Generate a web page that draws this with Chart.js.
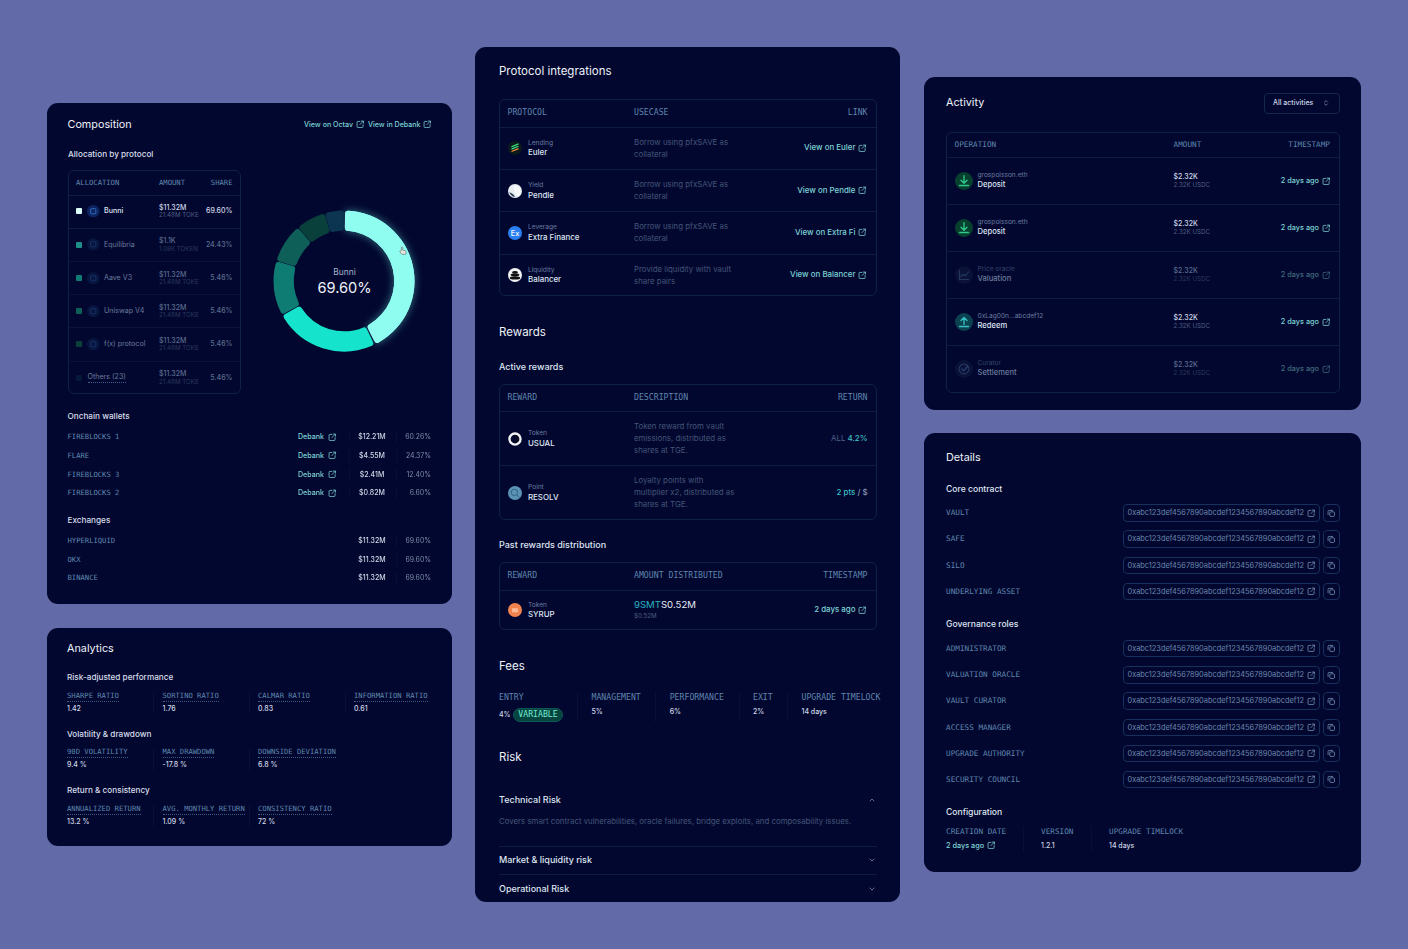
<!DOCTYPE html>
<html>
<head>
<meta charset="utf-8">
<title>Vault dashboard</title>
<script src="https://cdn.jsdelivr.net/npm/chart.js@4"></script>
<style>
  html, body { margin: 0; padding: 0; background: #626ba8; }
  #stage { position: relative; width: 1408px; height: 949px; overflow: hidden; background: #626ba8; font-family: Inter, "Noto Sans", sans-serif; color: #e6ebf5; filter: blur(0.3px); }
  .panel { position: absolute; background: #02072f; border-radius: 11px; }
  .box { position: absolute; border: 1px solid #10204a; border-radius: 6px; box-sizing: border-box; }
  .hl, .vl { position: absolute; background: #0e1c44; }
  .vl { background: #080f36; }
  .t { position: absolute; white-space: nowrap; line-height: 1.2; }
  .ic { position: absolute; }
  .ic svg { display: block; }
  .h1 { font-size: 10.8px; font-weight: 400; color: #eef2f8; }
  .h1m { font-size: 11.5px; font-weight: 400; color: #eef2f8; }
  .h2 { font-size: 8.2px; font-weight: 500; color: #d8deea; }
  .h2m { font-size: 9px; font-weight: 500; color: #dfe5f0; }
  .h2d { font-size: 8.6px; font-weight: 500; color: #dfe5f0; }
  .m { font-family: "DejaVu Sans Mono", monospace; font-size: 7.2px; color: #5f86ae; }
  .m2 { font-family: "DejaVu Sans Mono", monospace; font-size: 8.2px; color: #5f86ae; }
  .m3 { font-family: "DejaVu Sans Mono", monospace; font-size: 7.7px; color: #5f86ae; }
  .u { border-bottom: 1px dotted #3f5f8a; padding-bottom: 0.5px; }
  .b { font-size: 7.6px; font-weight: 500; color: #dfe5f1; }
  .bm { font-size: 7.9px; font-weight: 500; color: #dfe5f1; }
  .ba { font-size: 7.1px; font-weight: 500; color: #dfe5f1; }
  .bd { font-size: 7.6px; font-weight: 500; color: #6b7b9c; }
  .bda { font-size: 7.1px; font-weight: 400; color: #6b7b9c; }
  .v { font-size: 7px; font-weight: 500; color: #cfd7e6; }
  .vd { font-size: 7px; font-weight: 500; color: #5b6c8e; }
  .s { font-size: 6.2px; color: #4e5f82; }
  .sd { font-size: 6.2px; color: #2b3a5c; }
  .sub { font-size: 6.6px; color: #6a7ca0; }
  .subd { font-size: 6.6px; color: #35456a; }
  .link { font-size: 7.1px; font-weight: 500; color: #7cd2d4; }
  .linkm { font-size: 7.9px; font-weight: 500; color: #7cd2d4; }
  .linka { font-size: 7.3px; font-weight: 500; color: #7cd2d4; }
  .linkd { font-size: 7.3px; font-weight: 500; color: #3f6a7c; }
  .desc { font-size: 7.85px; color: #435577; }
  .addr { font-size: 7.4px; color: #6a86ad; }
  .pct { font-size: 6.9px; color: #7f8eaa; }
</style>
</head>
<body>
<div id="stage"></div>
<script>
/* ── data ── */
const donutLabels = ['Bunni', 'Equilibria', 'Aave V3', 'Uniswap V4', 'f(x) protocol', 'Others (23)'];
const donutValues = [42.8, 24.2, 12.6, 9.1, 6.9, 4.4];
const donutColors = ['#8ffdf0', '#15e3cb', '#0f7c74', '#0e5f58', '#0a403c', '#0b3550'];
const swatchColors = ['#dcfff9', '#1c8f88', '#0f7c74', '#0e5f58', '#0a403c', '#06193a'];

const allocAmounts = ['$11.32M', '$1.1K', '$11.32M', '$11.32M', '$11.32M', '$11.32M'];
const allocTokens  = ['21.48M TOKE', '1.09K TOKEN', '21.48M TOKE', '21.48M TOKE', '21.48M TOKE', '21.48M TOKE'];
const allocShares  = ['69.60%', '24.43%', '5.46%', '5.46%', '5.46%', '5.46%'];

const walletNames   = ['FIREBLOCKS 1', 'FLARE', 'FIREBLOCKS 3', 'FIREBLOCKS 2'];
const walletAmounts = ['$12.21M', '$4.55M', '$2.41M', '$0.82M'];
const walletShares  = ['60.26%', '24.37%', '12.40%', '6.60%'];

const exchangeNames   = ['HYPERLIQUID', 'OKX', 'BINANCE'];
const exchangeAmounts = ['$11.32M', '$11.32M', '$11.32M'];
const exchangeShares  = ['69.60%', '69.60%', '69.60%'];

const perfLabels = ['SHARPE RATIO', 'SORTINO RATIO', 'CALMAR RATIO', 'INFORMATION RATIO'];
const perfValues = ['1.42', '1.76', '0.83', '0.61'];
const volLabels  = ['90D VOLATILITY', 'MAX DRAWDOWN', 'DOWNSIDE DEVIATION'];
const volValues  = ['9.4 %', '-17.8 %', '6.8 %'];
const retLabels  = ['ANNUALIZED RETURN', 'AVG. MONTHLY RETURN', 'CONSISTENCY RATIO'];
const retValues  = ['13.2 %', '1.09 %', '72 %'];

const protoKinds = ['Lending', 'Yield', 'Leverage', 'Liquidity'];
const protoNames = ['Euler', 'Pendle', 'Extra Finance', 'Balancer'];
const protoUses  = [['Borrow using pfxSAVE as', 'collateral'], ['Borrow using pfxSAVE as', 'collateral'], ['Borrow using pfxSAVE as', 'collateral'], ['Provide liquidity with vault', 'share pairs']];
const protoLinks = ['View on Euler', 'View on Pendle', 'View on Extra Fi', 'View on Balancer'];

const feeLabels = ['ENTRY', 'MANAGEMENT', 'PERFORMANCE', 'EXIT', 'UPGRADE TIMELOCK'];
const feeValues = ['4%', '5%', '6%', '2%', '14 days'];

const opSubs    = ['grospoisson.eth', 'grospoisson.eth', 'Price oracle', '0xLag00n...abcdef12', 'Curator'];
const opNames   = ['Deposit', 'Deposit', 'Valuation', 'Redeem', 'Settlement'];
const opAmounts = ['$2.32K', '$2.32K', '$2.32K', '$2.32K', '$2.32K'];
const opTokens  = ['2.32K USDC', '2.32K USDC', '2.32K USDC', '2.32K USDC', '2.32K USDC'];
const opTimes   = ['2 days ago', '2 days ago', '2 days ago', '2 days ago', '2 days ago'];

const coreNames = ['VAULT', 'SAFE', 'SILO', 'UNDERLYING ASSET'];
const roleNames = ['ADMINISTRATOR', 'VALUATION ORACLE', 'VAULT CURATOR', 'ACCESS MANAGER', 'UPGRADE AUTHORITY', 'SECURITY COUNCIL'];
const address   = '0xabc123def4567890abcdef1234567890abcdef12';

const configLabels = ['CREATION DATE', 'VERSION', 'UPGRADE TIMELOCK'];
const configValues = ['2 days ago', '1.2.1', '14 days'];

/* ── helpers ── */
const stage = document.getElementById('stage');

function t(x, y, text, cls, align) {
  const d = document.createElement('div');
  d.className = 't ' + cls;
  d.innerHTML = text;
  d.style.top = (y + 0.4) + 'px';
  d.style.left = x + 'px';
  const tx = align === 'r' ? '-100%' : align === 'c' ? '-50%' : '0';
  d.style.transform = `translate(${tx},-50%)`;
  stage.appendChild(d);
  return d;
}
function rect(cls, x, y, w, h, css) {
  const d = document.createElement('div');
  d.className = cls;
  d.style.cssText = `left:${x}px;top:${y}px;width:${w}px;height:${h}px;` + (css || '');
  stage.appendChild(d);
  return d;
}
const hl = (x1, x2, y, css) => rect('hl', x1, y, x2 - x1, 1, css);
const vl = (x, y1, y2) => rect('vl', x, y1, 1, y2 - y1);
function ic(x, y, size, inner) {
  const d = document.createElement('div');
  d.className = 'ic';
  d.style.cssText = `left:${x - size / 2}px;top:${y - size / 2}px;width:${size}px;height:${size}px;`;
  d.innerHTML = `<svg width="${size}" height="${size}" viewBox="0 0 24 24" fill="none">${inner}</svg>`;
  stage.appendChild(d);
}
function ext(x, y, color) {
  ic(x, y, 8.5, `<path d="M11 4H5a2 2 0 0 0-2 2v13a2 2 0 0 0 2 2h13a2 2 0 0 0 2-2v-6M11 13L21 3M15 3h6v6" stroke="${color || '#7cd2d4'}" stroke-width="2.2" stroke-linecap="round" stroke-linejoin="round"/>`);
}
function copyIc(x, y) {
  ic(x, y, 8.5, '<rect x="8" y="8" width="13" height="13" rx="3" stroke="#7a96bb" stroke-width="2.2"/><path d="M16 4H6a3 3 0 0 0-3 3v9" stroke="#7a96bb" stroke-width="2.2" stroke-linecap="round"/>');
}
function chev(x, y, up) {
  ic(x, y, 8, `<path d="${up ? 'M6 15l6-6 6 6' : 'M6 9l6 6 6-6'}" stroke="#7486a6" stroke-width="2.4" stroke-linecap="round" stroke-linejoin="round"/>`);
}
function panel(x, y, w, h) { rect('panel', x, y, w, h); }
function tableBox(x, y, w, h, header, headerY, lineY, cls) {
  rect('box', x, y, w, h);
  hl(x + 1, x + w - 1, lineY);
  header.forEach(c => t(c[0], headerY, c[1], cls, c[2]));
}

/* ── panels ── */
panel(47, 103, 405, 501);
panel(47, 628, 405, 218);
panel(475, 47, 425, 855);
panel(924, 77, 437, 332.5);
panel(924, 433, 437, 438.5);

/* ── Composition ── */
t(67.5, 124.7, 'Composition', 'h1');
t(304, 124.7, 'View on Octav', 'link');
ext(360.5, 124.7);
t(368, 124.7, 'View in Debank', 'link');
ext(427, 124.7);
t(68, 154.7, 'Allocation by protocol', 'h2');

tableBox(68, 169.5, 173, 224.5, [[76, 'ALLOCATION'], [159, 'AMOUNT'], [232.5, 'SHARE', 'r']], 182.5, 194.7, 'm');
const allocY = [211, 244.5, 278, 311, 344, 377.5];
donutLabels.forEach((name, i) => {
  const y = allocY[i];
  const on = i === 0;
  if (i > 0) hl(69, 240, y - 17, i === 1 ? '' : 'background:#0a1338;');
  rect('ic', 76, y - 3, 6, 6, `background:${swatchColors[i]};border-radius:1px;`);
  if (i < 5) {
    ic(93.5, y, 12.5, `<circle cx="12" cy="12" r="12" fill="${on ? '#0c2560' : '#07153f'}"/><rect x="7" y="7" width="10" height="10" rx="2" stroke="${on ? '#3d78cc' : '#1b3770'}" stroke-width="1.6"/>`);
    t(104, y, name, on ? 'ba' : 'bda');
  } else {
    t(87.5, y, name, 'bda u');
  }
  t(159, y - 3.8, allocAmounts[i], on ? 'v' : 'vd');
  t(159, y + 3.8, allocTokens[i], on ? 's' : 'sd');
  t(232.5, y, allocShares[i], on ? 'v' : 'vd', 'r');
});

/* donut */
t(344.5, 272, donutLabels[0], 'sub', 'c').style.cssText += 'font-size:8.4px;color:#a7b3cc;';
t(344.5, 288.5, allocShares[0], 'x', 'c').style.cssText += 'font-size:14.6px;color:#eef2f8;';
const wrap = document.createElement('div');
wrap.style.cssText = 'position:absolute;left:244px;top:181px;width:200px;height:200px;';
const cv = document.createElement('canvas');
wrap.appendChild(cv);
stage.appendChild(wrap);

const glowPlugin = {
  id: 'glow',
  beforeDatasetsDraw(chart) {
    const arc = chart.getDatasetMeta(0).data[0];
    const c = chart.ctx;
    c.save();
    c.shadowColor = 'rgba(120,255,240,0.45)';
    c.shadowBlur = 9;
    arc.draw(c);
    c.restore();
  },
};
new Chart(cv, {
  type: 'doughnut',
  data: {
    labels: donutLabels,
    datasets: [{ data: donutValues, backgroundColor: donutColors, borderWidth: 0, spacing: 1.5, borderRadius: 3, hoverOffset: 0 }],
  },
  options: {
    responsive: true, maintainAspectRatio: false, animation: false, cutout: '71%',
    layout: { padding: 29.5 },
    plugins: { legend: { display: false }, tooltip: { enabled: false } },
    events: [],
  },
  plugins: [glowPlugin],
});
ic(402.5, 251, 10, '<path d="M8 11V4a1.6 1.6 0 0 1 3.2 0v6l6 1.2c1.4.3 2.3 1.5 2.1 2.9l-.8 5.9H9.5L4.5 14c-1-1.2.5-2.8 1.8-1.8z" fill="#e8e6df" stroke="#555" stroke-width="1.3"/>');

t(67.5, 417, 'Onchain wallets', 'h2');
const walletY = [437, 455.7, 474.3, 493];
walletNames.forEach((n, i) => {
  const y = walletY[i];
  t(67.5, y, n, 'm');
  t(298, y, 'Debank', 'link');
  ext(332.5, y);
  vl(349, y - 6, y + 6);
  t(372, y, walletAmounts[i], 'v', 'c');
  vl(396, y - 6, y + 6);
  t(431, y, walletShares[i], 'pct', 'r');
});
t(67.5, 521, 'Exchanges', 'h2');
const exchangeY = [541, 559.7, 578];
exchangeNames.forEach((n, i) => {
  const y = exchangeY[i];
  t(67.5, y, n, 'm');
  t(372, y, exchangeAmounts[i], 'v', 'c');
  vl(396, y - 6, y + 6);
  t(431, y, exchangeShares[i], 'pct', 'r');
});

/* ── Analytics ── */
t(67, 648.5, 'Analytics', 'h1');
const statCols = [67, 162.5, 258, 354];
function statRow(title, titleY, labels, values) {
  t(67, titleY, title, 'h2');
  labels.forEach((l, i) => {
    t(statCols[i], titleY + 18.3, l, 'm u');
    t(statCols[i], titleY + 30.5, values[i], 'v');
    if (i > 0) vl(statCols[i] - 9.5, titleY + 13, titleY + 36);
  });
}
statRow('Risk-adjusted performance', 678, perfLabels, perfValues);
statRow('Volatility &amp; drawdown', 734.5, volLabels, volValues);
statRow('Return &amp; consistency', 791, retLabels, retValues);

/* ── Protocol integrations ── */
t(499, 72, 'Protocol integrations', 'h1m');
tableBox(499, 99, 378, 197, [[507.5, 'PROTOCOL'], [634, 'USECASE'], [867.5, 'LINK', 'r']], 113, 126.5, 'm2');
const protoY = [148, 190.5, 232.5, 275];
const protoIcons = [
  '<circle cx="12" cy="12" r="12" fill="#0b1a1a"/><path d="M6 10l12-5M6 14l12-5" stroke="#3ddc84" stroke-width="2.2"/><path d="M6 18l12-5" stroke="#f08a3c" stroke-width="2.2"/>',
  '<circle cx="12" cy="12" r="12" fill="#e8edf2"/><path d="M10 3c6 0 12 3 12 10 0 5-3 8-7 9-2-5-5-12-5-19z" fill="#f6f8fa"/><path d="M2 14c3 6 7 8 10 8-2-4-5-7-10-8z" fill="#2d3a55"/>',
  '<circle cx="12" cy="12" r="12" fill="#2a7ff0"/><text x="12" y="16.5" font-size="12.5" text-anchor="middle" fill="#e8f1ff" font-family="Inter" font-weight="600">Ex</text>',
  '<circle cx="12" cy="12" r="12" fill="#f2f3f4"/><ellipse cx="12" cy="7.5" rx="5" ry="2.2" fill="#111"/><ellipse cx="12" cy="12" rx="7.5" ry="2.4" fill="#111"/><ellipse cx="12" cy="17" rx="9" ry="2.8" fill="#111"/>',
];
protoNames.forEach((n, i) => {
  const y = protoY[i];
  if (i > 0) hl(500, 876, y - 21.3);
  ic(515, y, 14, protoIcons[i]);
  t(528, y - 4.7, protoKinds[i], 'sub');
  t(528, y + 4.8, n, 'bm');
  t(634, y - 5.7, protoUses[i][0], 'desc');
  t(634, y + 6.3, protoUses[i][1], 'desc');
  t(855.5, y, protoLinks[i], 'linkm', 'r');
  ext(862.5, y);
});

t(499, 333, 'Rewards', 'h1m');
t(499, 366.7, 'Active rewards', 'h2m');
tableBox(499, 383.5, 378, 136.5, [[507.5, 'REWARD'], [634, 'DESCRIPTION'], [867.5, 'RETURN', 'r']], 397.5, 411, 'm2');
hl(500, 876, 465.3);
ic(515, 438.5, 14, '<circle cx="12" cy="12" r="9.5" stroke="#f2f3f4" stroke-width="4"/><path d="M12 7a5 5 0 0 1 0 10" stroke="#111" stroke-width="2"/>');
t(528, 433.7, 'Token', 'sub');
t(528, 443.5, 'USUAL', 'bm');
t(634, 427, 'Token reward from vault', 'desc');
t(634, 438.7, 'emissions, distributed as', 'desc');
t(634, 450.3, 'shares at TGE.', 'desc');
t(867.5, 438.7, '<span style="color:#4e6285;font-weight:400">ALL</span> <span style="color:#3fbfc4">4.2%</span>', 'linkm', 'r');
ic(515, 492.5, 14, '<circle cx="12" cy="12" r="12" fill="#5b93b4"/><circle cx="11" cy="11" r="5.5" stroke="#2f5f80" stroke-width="1.6"/><path d="M15 15l5 5" stroke="#2f5f80" stroke-width="1.6"/>');
t(528, 487.5, 'Point', 'sub');
t(528, 497.2, 'RESOLV', 'bm');
t(634, 481, 'Loyalty points with', 'desc');
t(634, 492.5, 'multiplier x2, distributed as', 'desc');
t(634, 504.5, 'shares at TGE.', 'desc');
t(867.5, 492.7, '<span style="color:#3fbfc4">2 pts</span> <span style="color:#8c9ab4">/ $</span>', 'linkm', 'r');

t(499, 545, 'Past rewards distribution', 'h2m');
tableBox(499, 562, 378, 67.5, [[507.5, 'REWARD'], [634, 'AMOUNT DISTRIBUTED'], [867.5, 'TIMESTAMP', 'r']], 576, 589.5, 'm2');
ic(515, 610, 14, '<circle cx="12" cy="12" r="12" fill="#f0824e"/><path d="M7 9h10v7H7z" fill="#ffc9a8" opacity=".8"/>');
t(528, 605.3, 'Token', 'sub');
t(528, 614.8, 'SYRUP', 'bm');
t(634, 605, '<span style="color:#2ab3c0">9SMT</span>S0.52M', 'x').style.cssText += 'font-size:9.6px;color:#e4eaf4;';
t(634, 616, '$0.52M', 's');
t(855.5, 610, '2 days ago', 'linkm', 'r');
ext(862.5, 610);

t(499, 666.5, 'Fees', 'h1m');
const feeCols = [499, 591.5, 669.7, 753, 801.5];
feeLabels.forEach((l, i) => {
  t(feeCols[i], 698, l, 'm2');
  if (i > 0) {
    t(feeCols[i], 712, feeValues[i], 'v');
    vl(feeCols[i] - 14.5, 692, 722);
  }
});
t(499, 714.5, feeValues[0], 'v');
rect('ic', 513, 707.5, 50, 14.5, 'background:#064440;border:1px solid #0c5855;border-radius:7.5px;box-sizing:border-box;');
t(538, 714.7, 'VARIABLE', 'm2', 'c').style.color = '#74ecd2';

t(499, 758, 'Risk', 'h1m');
t(499, 800, 'Technical Risk', 'h2m');
chev(872, 800, true);
t(499, 821.7, 'Covers smart contract vulnerabilities, oracle failures, bridge exploits, and composability issues.', 'desc');
hl(499, 877, 845.5);
t(499, 860, 'Market &amp; liquidity risk', 'h2m');
chev(872, 860);
hl(499, 877, 873.5);
t(499, 888.5, 'Operational Risk', 'h2m');
chev(872, 888.5);

/* ── Activity ── */
t(946, 103, 'Activity', 'h1');
rect('box', 1264, 92.5, 75.5, 21, 'border-color:#14274f;border-radius:4px;');
t(1273, 103, 'All activities', 'v');
ic(1326, 103, 8, '<path d="M8 9l4-4 4 4M8 15l4 4 4-4" stroke="#8696b2" stroke-width="2.2" stroke-linecap="round" stroke-linejoin="round"/>');
tableBox(946, 131.5, 393.5, 261, [[954.5, 'OPERATION'], [1173.5, 'AMOUNT'], [1330, 'TIMESTAMP', 'r']], 144.5, 157, 'm3');
const opY = [181, 228, 275, 322, 369];
const opIcons = [
  ['#07402f', '<path d="M12 5v9M8 11l4 4 4-4M6 18h12" stroke="#2fc78b" stroke-width="1.8" stroke-linecap="round" stroke-linejoin="round"/>'],
  ['#07402f', '<path d="M12 5v9M8 11l4 4 4-4M6 18h12" stroke="#2fc78b" stroke-width="1.8" stroke-linecap="round" stroke-linejoin="round"/>'],
  ['#0a1237', '<path d="M6 6v12h12M8 14l3-3 3 2 4-5" stroke="#24375f" stroke-width="1.6" stroke-linecap="round" stroke-linejoin="round"/>'],
  ['#0c4150', '<path d="M12 15V7M8 10l4-4 4 4M6 18h12" stroke="#37c0c4" stroke-width="1.8" stroke-linecap="round" stroke-linejoin="round"/>'],
  ['#0a1237', '<circle cx="12" cy="12" r="6.5" stroke="#24375f" stroke-width="1.6"/><path d="M9 12l2.5 2.5L17 8" stroke="#2b4270" stroke-width="1.6" stroke-linecap="round"/>'],
];
opNames.forEach((n, i) => {
  const y = opY[i];
  const dim = i === 2 || i === 4;
  if (i > 0) hl(947, 1339, y - 24.3);
  ic(963.5, y, 18, `<circle cx="12" cy="12" r="12" fill="${opIcons[i][0]}"/>` + opIcons[i][1]);
  t(977.5, y - 5, opSubs[i], dim ? 'subd' : 'sub');
  t(977.5, y + 4, n, dim ? 'bd' : 'b');
  t(1173.5, y - 4.5, opAmounts[i], dim ? 'vd' : 'v');
  t(1173.5, y + 3.8, opTokens[i], dim ? 'sd' : 's');
  t(1319, y, opTimes[i], dim ? 'linkd' : 'linka', 'r');
  ext(1326, y, dim ? '#3f6a7c' : '#7cd2d4');
});

/* ── Details ── */
t(946, 457.5, 'Details', 'h1');
t(946, 489, 'Core contract', 'h2d');
function addrRow(label, y) {
  t(946, y, label, 'm3');
  rect('box', 1123, y - 8.8, 196.5, 17.5, 'border-color:#17305c;border-radius:4px;');
  t(1127.5, y, address, 'addr');
  ext(1311, y, '#7a96bb');
  rect('box', 1322.5, y - 8.8, 17, 17.5, 'border-color:#17305c;border-radius:4px;');
  copyIc(1330.8, y);
}
[513, 539, 565.3, 591.5].forEach((y, i) => addrRow(coreNames[i], y));
t(946, 624, 'Governance roles', 'h2d');
[648.7, 675, 701, 727.3, 753.5, 779.7].forEach((y, i) => addrRow(roleNames[i], y));
t(946, 812, 'Configuration', 'h2d');
const cfgCols = [946, 1041, 1109];
configLabels.forEach((l, i) => {
  t(cfgCols[i], 832, l, 'm3');
  if (i > 0) vl(cfgCols[i] - 18, 826, 852);
});
t(946, 845.5, configValues[0], 'linka');
ext(991, 845.5);
t(1041, 845.5, configValues[1], 'v');
t(1109, 845.5, configValues[2], 'v');
</script>
</body>
</html>
